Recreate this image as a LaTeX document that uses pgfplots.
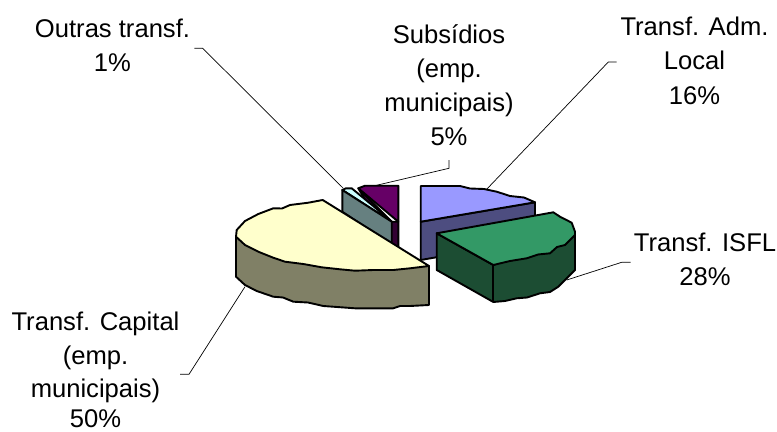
\documentclass[border=0pt]{standalone}
\usepackage{fontspec}
\setmainfont{Liberation Sans}
\usepackage{pgfplots}
\pgfplotsset{compat=1.18}
\definecolor{yt}{HTML}{FFFFCC}\definecolor{ys}{HTML}{808066}
\definecolor{gt}{HTML}{339966}\definecolor{gs}{HTML}{1C4D33}
\definecolor{bt}{HTML}{9999FF}\definecolor{bs}{HTML}{4D4D80}
\definecolor{pt}{HTML}{660066}\definecolor{ps}{HTML}{330033}
\definecolor{ct}{HTML}{CCFFFF}\definecolor{cs}{HTML}{668080}
\newcommand{\lbl}[3]{\node[anchor=base,inner sep=0pt,font=\fontsize{25.7}{30}\selectfont] at (axis cs:#1,#2) {#3};}
\begin{document}
\begin{tikzpicture}
\useasboundingbox (0,0) rectangle (777bp,432bp);
\begin{axis}[at={(0,0)},anchor=south west,scale only axis,width=777bp,height=432bp,
  xmin=0,xmax=777,ymin=0,ymax=432,y dir=reverse,hide axis,clip=false,
  slice/.style={draw=black,line width=1.9bp,line join=round},
  leader/.style={draw=black,line width=0.7bp,mark=none}]
% leader lines
\addplot[leader] coordinates {(194.3,48.3)(202.7,48.3)(343.3,188.3)};
\addplot[leader] coordinates {(449,160)(449,168.3)(365,188)};
\addplot[leader] coordinates {(616.7,62)(608.3,62)(485,191)};
\addplot[leader] coordinates {(630.7,262.3)(621.7,262.3)(566.7,280)};
\addplot[leader] coordinates {(180,374.3)(189,374.3)(245,286.7)};
% Subsidios
\addplot[slice,fill=ps] coordinates {(358.3,188.3)(391.7,221.7)(398.3,221.7)(398.3,249)(391.7,245)} -- cycle;
\addplot[slice,fill=pt] coordinates {(358.3,188.3)(365,185.7)(398.3,185.7)(398.3,221.7)} -- cycle;
% Outras
\addplot[slice,fill=ct] coordinates {(342.3,190)(346,188.3)(351.7,188.3)(378,210)(391.7,221.7)} -- cycle;
\addplot[slice,fill=cs] coordinates {(342.3,190)(342.3,211.7)(391.7,245)(391.7,221.7)} -- cycle;
% Adm Local
\addplot[slice,fill=bs] coordinates {(420.7,221.7)(535,202.3)(535,213.3)(535,240)(420.7,260)} -- cycle;
\addplot[slice,fill=bt] coordinates {(420.7,186)(460,186)(470,188.5)(484,189)(496.7,191.7)(510,196)(524,197.5)(535,202.3)(420.7,221.7)} -- cycle;
% ISFL
\addplot[slice,fill=gs] coordinates {(436.7,233.3)(436.7,270)(493.3,302)(505,301)(516.7,298.3)(527,297.5)(540,293.3)(550,292)(558.3,286.7)(575,270)(575,233)(493.3,265)} -- cycle;
\addplot[slice,fill=gt] coordinates {(436.7,233.3)(553.3,212.3)(560,216.7)(571.7,222.7)(575,231.7)(575,235)(565,245)(557,247)(550,253.3)(538,254.5)(526.7,258.3)(510,261)(493.3,265)} -- cycle;
\addplot[slice] coordinates {(493.3,265)(493.3,302)};
% Capital
\addplot[slice,fill=ys] coordinates {(236,236.7)(236,276.7)(245,285)(256.7,291)(273.3,296.7)(283,297.5)(293.3,301.7)(308,302.5)(323.3,306)(355,308.3)(393.3,308.3)(400,306)(410,306)(429,305)(429,266)} -- cycle;
\addplot[slice,fill=yt] coordinates {(322.7,200)(308.3,202.7)(290,205)(282,208.5)(273.3,208.3)(258.3,214)(245,221)(236.7,230)(236,236.7)(245,245)(258.3,251.7)(273.3,257.7)(285,261.7)(303.3,264)(321.7,267.3)(340,269.3)(355,270.7)(373.3,270)(393.3,270)(410,268.3)(429,266)} -- cycle;
% labels
\lbl{112.5}{38}{Outras transf.}
\lbl{112.5}{72}{1\%}
\lbl{449}{44}{Subsídios}
\lbl{449}{77.5}{(emp.}
\lbl{449}{111.7}{municipais)}
\lbl{449}{145.7}{5\%}
\lbl{694.5}{35.7}{Transf. Adm.}
\lbl{694.5}{69.3}{Local}
\lbl{694.5}{104}{16\%}
\lbl{705}{251.7}{Transf. ISFL}
\lbl{705}{285.7}{28\%}
\lbl{95.5}{330}{Transf. Capital}
\lbl{95.5}{364}{(emp.}
\lbl{95.5}{397.7}{municipais)}
\lbl{95.5}{427.5}{50\%}
\end{axis}
\end{tikzpicture}
\end{document}
